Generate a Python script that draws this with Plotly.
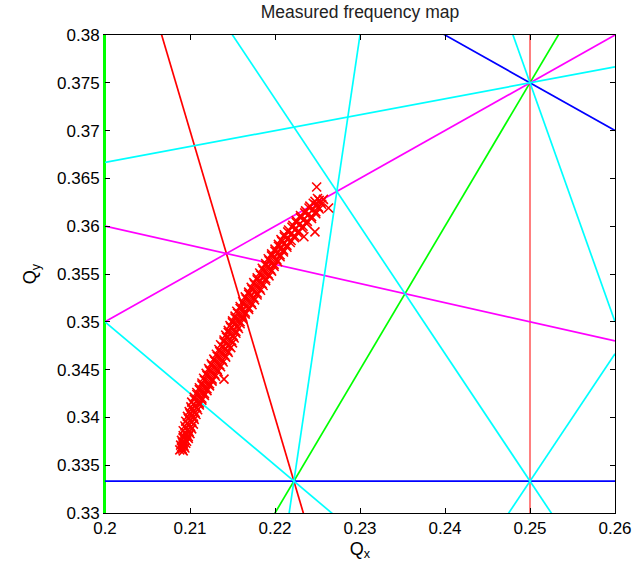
import plotly.graph_objects as go

TITLE = "Measured frequency map"
X_RANGE = [0.2, 0.26]
Y_RANGE = [0.33, 0.38]
x_tick_vals = [0.2, 0.21, 0.22, 0.23, 0.24, 0.25, 0.26]
x_tick_text = ["0.2", "0.21", "0.22", "0.23", "0.24", "0.25", "0.26"]
y_tick_vals = [0.33, 0.335, 0.34, 0.345, 0.35, 0.355, 0.36, 0.365, 0.37, 0.375, 0.38]
y_tick_text = ["0.33", "0.335", "0.34", "0.345", "0.35", "0.355", "0.36", "0.365", "0.37", "0.375", "0.38"]

# resonance lines: a*Qx + b*Qy = c
res_a = [5, 3, 3, 4, 1, 0, -2, 1, -1, 3, 4, 6, 5, 4]
res_b = [0, -2, 1, 0, 2, 3, 4, 5, 6, 4, 3, -1, 2, -3]
res_c = [1, 0, 1, 1, 1, 1, 1, 2, 2, 2, 2, 1, 2, 0]
res_color = ["#00ff00", "#00ff00", "#ff0000", "#ff0000", "#0000ff", "#0000ff",
             "#ff00ff", "#ff00ff", "#00ffff", "#00ffff", "#00ffff", "#00ffff",
             "#00ffff", "#00ffff"]
res_width = [2, 1.7, 1.7, 1, 1.7, 1.7, 1.7, 1.7, 1.7, 1.7, 1.7, 1.7, 1.7, 1.7]

# measured tunes
meas_qx = [
    0.2088, 0.2090, 0.2091, 0.2092, 0.2094,
    0.2089, 0.2091, 0.2092, 0.2093, 0.2095,
    0.2090, 0.2092, 0.2094, 0.2096, 0.2098,
    0.2092, 0.2094, 0.2096, 0.2098, 0.2100,
    0.2092, 0.2095, 0.2097, 0.2099, 0.2102,
    0.2094, 0.2097, 0.2099, 0.2101, 0.2104,
    0.2095, 0.2098, 0.2100, 0.2102, 0.2105,
    0.2097, 0.2100, 0.2102, 0.2104, 0.2107,
    0.2099, 0.2102, 0.2104, 0.2106, 0.2109,
    0.2101, 0.2104, 0.2106, 0.2108, 0.2111,
    0.2102, 0.2105, 0.2108, 0.2111, 0.2114,
    0.2105, 0.2108, 0.2111, 0.2114, 0.2117,
    0.2108, 0.2111, 0.2114, 0.2117, 0.2120,
    0.2111, 0.2114, 0.2117, 0.2120, 0.2123,
    0.2114, 0.2117, 0.2120, 0.2123, 0.2126,
    0.2116, 0.2120, 0.2123, 0.2126, 0.2130,
    0.2119, 0.2123, 0.2126, 0.2129, 0.2133,
    0.2122, 0.2126, 0.2129, 0.2132, 0.2136,
    0.2125, 0.2129, 0.2132, 0.2135, 0.2139,
    0.2128, 0.2132, 0.2135, 0.2138, 0.2142,
    0.2131, 0.2135, 0.2138, 0.2141, 0.2145,
    0.2134, 0.2138, 0.2141, 0.2144, 0.2148,
    0.2136, 0.2140, 0.2143, 0.2146, 0.2150,
    0.2140, 0.2143, 0.2146, 0.2149, 0.2152,
    0.2142, 0.2145, 0.2148, 0.2151, 0.2154,
    0.2145, 0.2148, 0.2151, 0.2154, 0.2157,
    0.2147, 0.2150, 0.2153, 0.2156, 0.2159,
    0.2150, 0.2153, 0.2156, 0.2159, 0.2162,
    0.2153, 0.2156, 0.2159, 0.2162, 0.2165,
    0.2155, 0.2159, 0.2162, 0.2165, 0.2169,
    0.2159, 0.2163, 0.2166, 0.2169, 0.2173,
    0.2162, 0.2166, 0.2169, 0.2172, 0.2176,
    0.2165, 0.2169, 0.2172, 0.2175, 0.2179,
    0.2169, 0.2173, 0.2176, 0.2179, 0.2183,
    0.2172, 0.2176, 0.2179, 0.2182, 0.2186,
    0.2175, 0.2179, 0.2182, 0.2185, 0.2189,
    0.2179, 0.2183, 0.2186, 0.2189, 0.2193,
    0.2182, 0.2186, 0.2189, 0.2192, 0.2196,
    0.2185, 0.2189, 0.2192, 0.2195, 0.2199,
    0.2189, 0.2193, 0.2196, 0.2199, 0.2203,
    0.2192, 0.2196, 0.2199, 0.2202, 0.2206,
    0.2196, 0.2200, 0.2203, 0.2206, 0.2210,
    0.2200, 0.2204, 0.2207, 0.2210, 0.2214,
    0.2204, 0.2208, 0.2211, 0.2214, 0.2218,
    0.2207, 0.2211, 0.2215, 0.2219, 0.2223,
    0.2211, 0.2215, 0.2219, 0.2223, 0.2227,
    0.2216, 0.2220, 0.2224, 0.2228, 0.2232,
    0.2221, 0.2225, 0.2229, 0.2233, 0.2237,
    0.2225, 0.2230, 0.2234, 0.2238, 0.2243,
    0.2230, 0.2235, 0.2239, 0.2243, 0.2248,
    0.2236, 0.2240, 0.2244, 0.2248, 0.2252,
    0.2241, 0.2245, 0.2248, 0.2251, 0.2255,
    0.2247, 0.2250, 0.2252, 0.2254, 0.2257,
    0.2249, 0.2234, 0.2247, 0.2263, 0.2140,
]
meas_qy = [
    0.3366, 0.3369, 0.3367, 0.3365, 0.3368,
    0.3371, 0.3374, 0.3372, 0.3370, 0.3373,
    0.3376, 0.3379, 0.3377, 0.3375, 0.3378,
    0.3381, 0.3384, 0.3382, 0.3380, 0.3383,
    0.3386, 0.3389, 0.3387, 0.3385, 0.3388,
    0.3391, 0.3394, 0.3392, 0.3390, 0.3393,
    0.3396, 0.3399, 0.3397, 0.3395, 0.3398,
    0.3401, 0.3404, 0.3402, 0.3400, 0.3403,
    0.3406, 0.3409, 0.3407, 0.3405, 0.3408,
    0.3411, 0.3414, 0.3412, 0.3410, 0.3413,
    0.3416, 0.3419, 0.3417, 0.3415, 0.3418,
    0.3421, 0.3424, 0.3422, 0.3420, 0.3423,
    0.3426, 0.3429, 0.3427, 0.3425, 0.3428,
    0.3431, 0.3434, 0.3432, 0.3430, 0.3433,
    0.3436, 0.3439, 0.3437, 0.3435, 0.3438,
    0.3441, 0.3444, 0.3442, 0.3440, 0.3443,
    0.3446, 0.3449, 0.3447, 0.3445, 0.3448,
    0.3451, 0.3454, 0.3452, 0.3450, 0.3453,
    0.3456, 0.3459, 0.3457, 0.3455, 0.3458,
    0.3461, 0.3464, 0.3462, 0.3460, 0.3463,
    0.3466, 0.3469, 0.3467, 0.3465, 0.3468,
    0.3471, 0.3474, 0.3472, 0.3470, 0.3473,
    0.3476, 0.3479, 0.3477, 0.3475, 0.3478,
    0.3481, 0.3484, 0.3482, 0.3480, 0.3483,
    0.3486, 0.3489, 0.3487, 0.3485, 0.3488,
    0.3491, 0.3494, 0.3492, 0.3490, 0.3493,
    0.3496, 0.3499, 0.3497, 0.3495, 0.3498,
    0.3501, 0.3504, 0.3502, 0.3500, 0.3503,
    0.3506, 0.3509, 0.3507, 0.3505, 0.3508,
    0.3511, 0.3514, 0.3512, 0.3510, 0.3513,
    0.3516, 0.3519, 0.3517, 0.3515, 0.3518,
    0.3521, 0.3524, 0.3522, 0.3520, 0.3523,
    0.3526, 0.3529, 0.3527, 0.3525, 0.3528,
    0.3531, 0.3534, 0.3532, 0.3530, 0.3533,
    0.3536, 0.3539, 0.3537, 0.3535, 0.3538,
    0.3541, 0.3544, 0.3542, 0.3540, 0.3543,
    0.3546, 0.3549, 0.3547, 0.3545, 0.3548,
    0.3551, 0.3554, 0.3552, 0.3550, 0.3553,
    0.3556, 0.3559, 0.3557, 0.3555, 0.3558,
    0.3561, 0.3564, 0.3562, 0.3560, 0.3563,
    0.3566, 0.3569, 0.3567, 0.3565, 0.3568,
    0.3571, 0.3574, 0.3572, 0.3570, 0.3573,
    0.3576, 0.3579, 0.3577, 0.3575, 0.3578,
    0.3581, 0.3584, 0.3582, 0.3580, 0.3583,
    0.3586, 0.3589, 0.3587, 0.3585, 0.3588,
    0.3591, 0.3594, 0.3592, 0.3590, 0.3593,
    0.3596, 0.3599, 0.3597, 0.3595, 0.3598,
    0.3601, 0.3604, 0.3602, 0.3600, 0.3603,
    0.3606, 0.3609, 0.3607, 0.3605, 0.3608,
    0.3611, 0.3614, 0.3612, 0.3610, 0.3613,
    0.3616, 0.3619, 0.3617, 0.3615, 0.3618,
    0.3621, 0.3624, 0.3622, 0.3620, 0.3623,
    0.3626, 0.3629, 0.3627, 0.3625, 0.3628,
    0.3641, 0.3589, 0.3594, 0.3619, 0.3440,
]

FONT = "Liberation Sans, Arial, Helvetica, sans-serif"

fig = go.Figure()

for a, b, c, col, w in zip(res_a, res_b, res_c, res_color, res_width):
    if b == 0:
        xs = [c / a, c / a]
        ys = list(Y_RANGE)
    else:
        xs = list(X_RANGE)
        ys = [(c - a * x) / b for x in xs]
    fig.add_trace(go.Scatter(x=xs, y=ys, mode="lines",
                             line=dict(color=col, width=w),
                             showlegend=False, hoverinfo="skip"))

fig.add_trace(go.Scatter(x=meas_qx, y=meas_qy, mode="markers",
                         marker=dict(symbol="x-thin", size=9, color="#ff0000",
                                     line=dict(color="#ff0000", width=1.6)),
                         showlegend=False))

# invisible trace to activate the right-hand y axis (frame ticks)
fig.add_trace(go.Scatter(x=[X_RANGE[0]], y=[Y_RANGE[0]], yaxis="y2",
                         mode="markers", marker=dict(opacity=0),
                         showlegend=False, hoverinfo="skip"))

fig.update_layout(
    width=636, height=569,
    margin=dict(l=104.5, r=21, t=35, b=56, autoexpand=False),
    paper_bgcolor="white", plot_bgcolor="white",
    font=dict(family=FONT, size=17, color="black"),
    title=dict(text=TITLE, x=0.5, xanchor="center", xref="paper",
               y=1, yref="container", yanchor="top", pad=dict(t=6),
               font=dict(size=17.5, family=FONT, color="#222222")),
    xaxis=dict(range=X_RANGE, tickvals=x_tick_vals, ticktext=x_tick_text,
               showgrid=False, zeroline=False, showline=True, linecolor="black",
               linewidth=1, mirror="ticks", ticks="inside", ticklen=5,
               tickcolor="black", tickfont=dict(size=17), automargin=False,
               title=dict(text="Q<sub>x</sub>", font=dict(size=18), standoff=4)),
    yaxis=dict(range=Y_RANGE, tickvals=y_tick_vals, ticktext=y_tick_text,
               showgrid=False, zeroline=False, showline=True, linecolor="#00ff00",
               linewidth=2, mirror=False, ticks="inside", ticklen=5,
               tickcolor="black", tickfont=dict(size=17), automargin=False,
               title=dict(text="Q<sub>y</sub>", font=dict(size=18), standoff=16)),
    yaxis2=dict(range=Y_RANGE, overlaying="y", side="right", matches="y",
                tickvals=y_tick_vals, showticklabels=False, showgrid=False,
                zeroline=False, showline=True, linecolor="black", linewidth=1,
                ticks="inside", ticklen=5, tickcolor="black", automargin=False),
)

fig.write_html("out.html")
